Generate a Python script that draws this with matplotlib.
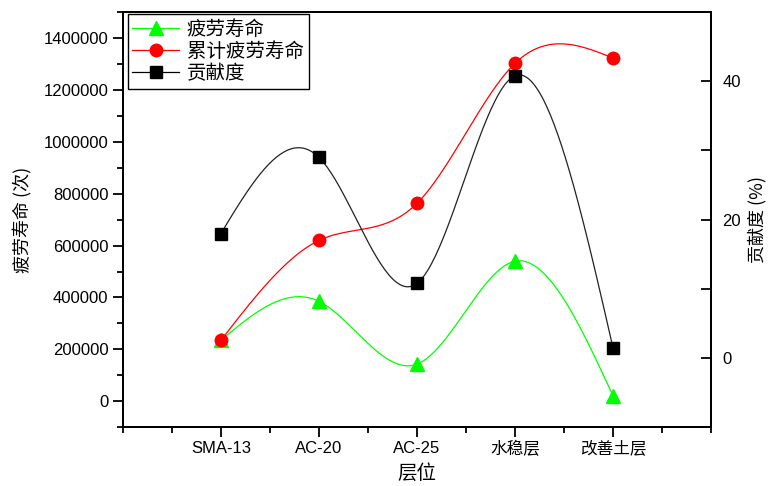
import numpy as np
import matplotlib
matplotlib.use('Agg')
import matplotlib.pyplot as plt
from matplotlib.ticker import MultipleLocator
from matplotlib.lines import Line2D

plt.rcParams['font.family'] = ['Liberation Sans', 'Noto Sans CJK SC']
plt.rcParams['axes.unicode_minus'] = False

## data
layers = ['SMA-13', 'AC-20', 'AC-25', '水稳层', '改善土层']
fatigue_life = [235000, 385000, 143000, 540000, 20000]
cum_life = [235000, 620000, 763000, 1303000, 1323000]
contribution = [18.0, 29.0, 10.8, 40.8, 1.4]


def natural_spline(x, y, n=200):
    ## smooth connecting curve through the points (natural cubic spline)
    x = np.asarray(x, float)
    y = np.asarray(y, float)
    k = len(x)
    h = np.diff(x)
    A = np.zeros((k, k))
    b = np.zeros(k)
    A[0, 0] = 1
    A[-1, -1] = 1
    for i in range(1, k - 1):
        A[i, i - 1] = h[i - 1]
        A[i, i] = 2 * (h[i - 1] + h[i])
        A[i, i + 1] = h[i]
        b[i] = 3 * ((y[i + 1] - y[i]) / h[i] - (y[i] - y[i - 1]) / h[i - 1])
    c = np.linalg.solve(A, b)
    xs = np.linspace(x[0], x[-1], n)
    ys = np.empty_like(xs)
    for j, xv in enumerate(xs):
        i = min(np.searchsorted(x, xv, side='right') - 1, k - 2)
        dx = xv - x[i]
        bi = (y[i + 1] - y[i]) / h[i] - h[i] * (2 * c[i] + c[i + 1]) / 3
        di = (c[i + 1] - c[i]) / (3 * h[i])
        ys[j] = y[i] + bi * dx + c[i] * dx ** 2 + di * dx ** 3
    return xs, ys


xpos = np.arange(1, len(layers) + 1)

fig = plt.figure(figsize=(7.68, 4.86), dpi=100)
ax = fig.add_axes([0.160, 0.121, 0.766, 0.854])
ax2 = ax.twinx()

xs, ys = natural_spline(xpos, fatigue_life)
ax.plot(xs, ys, color='#00ff00', lw=0.9)
ax.plot(xpos, fatigue_life, ls='none', marker='^', ms=10, color='#00ff00')

xs, ys = natural_spline(xpos, cum_life)
ax.plot(xs, ys, color='#ff0000', lw=0.9)
ax.plot(xpos, cum_life, ls='none', marker='o', ms=9, color='#ff0000')

xs, ys = natural_spline(xpos, contribution)
ax2.plot(xs, ys, color='#222222', lw=0.9)
ax2.plot(xpos, contribution, ls='none', marker='s', ms=8, color='black')

ax.set_xlim(0, 6)
ax.set_ylim(-100000, 1500000)
ax2.set_ylim(-10, 50)

ax.set_xticks(xpos)
ax.set_xticklabels(layers)
ax.xaxis.set_minor_locator(MultipleLocator(0.5))
ax.yaxis.set_major_locator(MultipleLocator(200000))
ax.yaxis.set_minor_locator(MultipleLocator(100000))
ax.ticklabel_format(axis='y', style='plain', useOffset=False)
ax2.yaxis.set_major_locator(MultipleLocator(20))
ax2.yaxis.set_minor_locator(MultipleLocator(10))

ax.tick_params(axis='both', which='major', labelsize=12, length=7, width=1.3, direction='out')
ax.tick_params(axis='both', which='minor', length=4, width=1.3, direction='out')
ax.tick_params(axis='x', pad=3)
ax2.tick_params(axis='y', which='major', labelsize=12, length=7, width=1.3, direction='in', pad=8)
ax2.tick_params(axis='y', which='minor', length=7, width=1.3, direction='in')

for a in (ax, ax2):
    for s in a.spines.values():
        s.set_linewidth(1.4)

ax.set_ylabel('疲劳寿命 (次)', fontsize=13, family=['Noto Sans CJK SC'], labelpad=8)
ax2.set_ylabel('贡献度 (%)', fontsize=13, family=['Noto Sans CJK SC'], labelpad=5)
ax.set_xlabel('层位', fontsize=14, family=['Noto Sans CJK SC'], labelpad=4)

h1 = Line2D([], [], color='#00ff00', lw=0.9, marker='^', ms=10)
h2 = Line2D([], [], color='#ff0000', lw=0.9, marker='o', ms=9)
h3 = Line2D([], [], color='black', lw=0.9, marker='s', ms=8)
leg = ax2.legend([h1, h2, h3], ['疲劳寿命', '累计疲劳寿命', '贡献度'], loc='upper left',
                 bbox_to_anchor=(0.008, 0.995), fancybox=False, edgecolor='black',
                 framealpha=1, prop={'family': ['Noto Sans CJK SC'], 'size': 14},
                 handlelength=2.4, labelspacing=0.05, borderpad=0.25, handletextpad=0.4,
                 borderaxespad=0)
leg.get_frame().set_linewidth(1.0)

fig.savefig('out.png', dpi=100)
